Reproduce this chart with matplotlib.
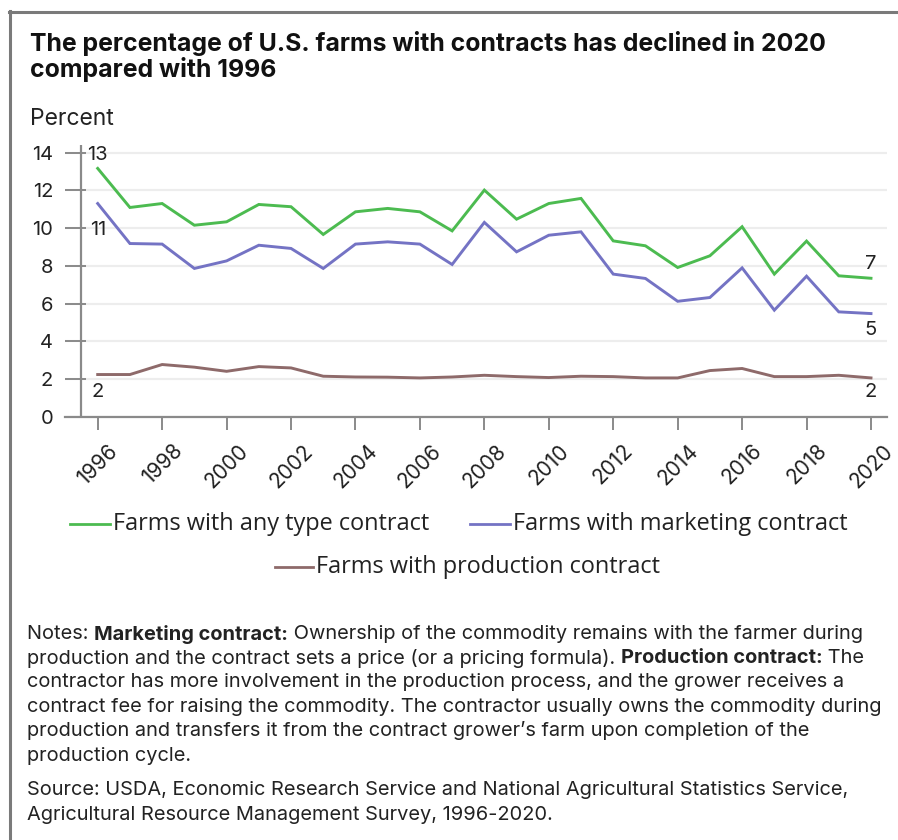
import matplotlib
matplotlib.use("Agg")
import matplotlib.pyplot as plt
from matplotlib.lines import Line2D

years = list(range(1996, 2021))
any_contract = [13.17, 11.10, 11.31, 10.16, 10.34, 11.26, 11.14, 9.67, 10.87, 11.05,
                10.87, 9.86, 12.02, 10.48, 11.31, 11.58, 9.33, 9.07, 7.92, 8.54,
                10.08, 7.57, 9.32, 7.48, 7.35]
marketing = [11.31, 9.19, 9.16, 7.87, 8.27, 9.10, 8.93, 7.87, 9.16, 9.28,
             9.16, 8.08, 10.31, 8.75, 9.63, 9.81, 7.57, 7.34, 6.13, 6.33,
             7.90, 5.66, 7.46, 5.57, 5.48]
production = [2.25, 2.25, 2.78, 2.64, 2.42, 2.67, 2.60, 2.16, 2.12, 2.11,
              2.07, 2.12, 2.21, 2.14, 2.09, 2.16, 2.14, 2.07, 2.07, 2.46,
              2.57, 2.14, 2.14, 2.21, 2.07]
series_names = ["Farms with any type contract", "Farms with marketing contract",
                "Farms with production contract"]
series_colors = ["#4cbb50", "#7473c4", "#8e6a6a"]
yticks = [0, 2, 4, 6, 8, 10, 12, 14]
xticks = list(range(1996, 2021, 2))
start_labels = ["13", "11", "2"]
end_labels = ["7", "5", "2"]

W, H = 898, 840
fig = plt.figure(figsize=(W / 100, H / 100), dpi=100)
fig.patch.set_facecolor("white")


def fx(px):
    return px / W


def fy(py):
    return 1 - py / H


# frame lines along the top and left edge
fig.add_artist(Line2D([fx(9), fx(898)], [fy(12), fy(12)], color="#7a7a7a", lw=2.2))
fig.add_artist(Line2D([fx(10), fx(10)], [fy(11), fy(840)], color="#7a7a7a", lw=2.2))

ax_l, ax_r, ax_b, ax_t = 65, 887, 417, 145
ax = fig.add_axes([fx(ax_l), fy(ax_b), fx(ax_r - ax_l), (ax_b - ax_t) / H])
ax.set_xlim(1994.985, 2020.497)
ax.set_ylim(0, 14.41)

for s in ["top", "right", "left"]:
    ax.spines[s].set_visible(False)
ax.spines["bottom"].set_color("#8a8a8a")
ax.spines["bottom"].set_linewidth(1.6)

ax.set_yticks(yticks)
ax.yaxis.grid(True, color="#ededed", lw=1.6)
ax.set_axisbelow(True)
ax.tick_params(axis="y", direction="in", length=15, width=1.4, color="#8a8a8a",
               labelsize=14.5, labelcolor="#222222", pad=8.5)
ax.set_xticks(xticks)
ax.tick_params(axis="x", direction="out", length=9, width=1.4, color="#8a8a8a",
               labelsize=15, labelcolor="#222222", pad=8)
for lab in ax.get_xticklabels():
    lab.set_rotation(45)
    lab.set_ha("center")
    lab.set_va("top")
for lab in ax.get_xticklabels() + ax.get_yticklabels():
    lab.set_fontfamily("Inter")

ax.plot([1995.47, 1995.47], [0, 14.41], color="#8a8a8a", lw=1.6, clip_on=False,
        solid_capstyle="butt", zorder=3)

for vals, color in zip([any_contract, marketing, production], series_colors):
    ax.plot(years, vals, color=color, lw=2.1, solid_joinstyle="miter", zorder=4)

start_y = [13.9, 9.93, 1.3]
end_y = [8.08, 4.63, 1.35]
for txt, yv in zip(start_labels, start_y):
    ax.text(years[0], yv, txt, ha="center", va="center", fontsize=14.5,
            family="Inter", color="#222222")
for txt, yv in zip(end_labels, end_y):
    ax.text(years[-1], yv, txt, ha="center", va="center", fontsize=14.5,
            family="Inter", color="#222222")

fig.text(fx(30), fy(44), "The percentage of U.S. farms with contracts has declined in 2020",
         fontsize=17.9, fontweight="bold", family="Inter", va="center", color="#111111")
fig.text(fx(30), fy(70), "compared with 1996",
         fontsize=17.9, fontweight="bold", family="Inter", va="center", color="#111111")
fig.text(fx(30), fy(119), "Percent", fontsize=16.5, family="Inter", va="center",
         color="#222222")

# legend rows
legend_pos = [(70, 110, 524), (470, 510, 524), (275, 313, 567)]
for name, color, (x0, x1, yy) in zip(series_names, series_colors, legend_pos):
    fig.add_artist(Line2D([fx(x0), fx(x1)], [fy(yy), fy(yy)], color=color, lw=2.0))
    fig.text(fx(x1 + 3), fy(yy), name, fontsize=16.9, family="Open Sans",
             va="center", ha="left", color="#222222")

note_lines = [
    [("Notes: ", "normal"), ("Marketing contract:", "bold"),
     (" Ownership of the commodity remains with the farmer during", "normal")],
    [("production and the contract sets a price (or a pricing formula). ", "normal"),
     ("Production contract:", "bold"), (" The", "normal")],
    [("contractor has more involvement in the production process, and the grower receives a", "normal")],
    [("contract fee for raising the commodity. The contractor usually owns the commodity during", "normal")],
    [("production and transfers it from the contract grower\u2019s farm upon completion of the", "normal")],
    [("production cycle.", "normal")],
    [("Source: USDA, Economic Research Service and National Agricultural Statistics Service,", "normal")],
    [("Agricultural Resource Management Survey, 1996-2020.", "normal")],
]
note_y = [634, 658, 682, 707, 731, 756, 790, 815]

fig.canvas.draw()
renderer = fig.canvas.get_renderer()
for parts, yy in zip(note_lines, note_y):
    x = 27
    for txt, wt in parts:
        t = fig.text(fx(x), fy(yy), txt, fontsize=14.4, fontweight=wt, family="Inter",
                     va="center", ha="left", color="#222222")
        bb = t.get_window_extent(renderer)
        x += bb.width

fig.savefig("out.png", dpi=100, facecolor="white")
